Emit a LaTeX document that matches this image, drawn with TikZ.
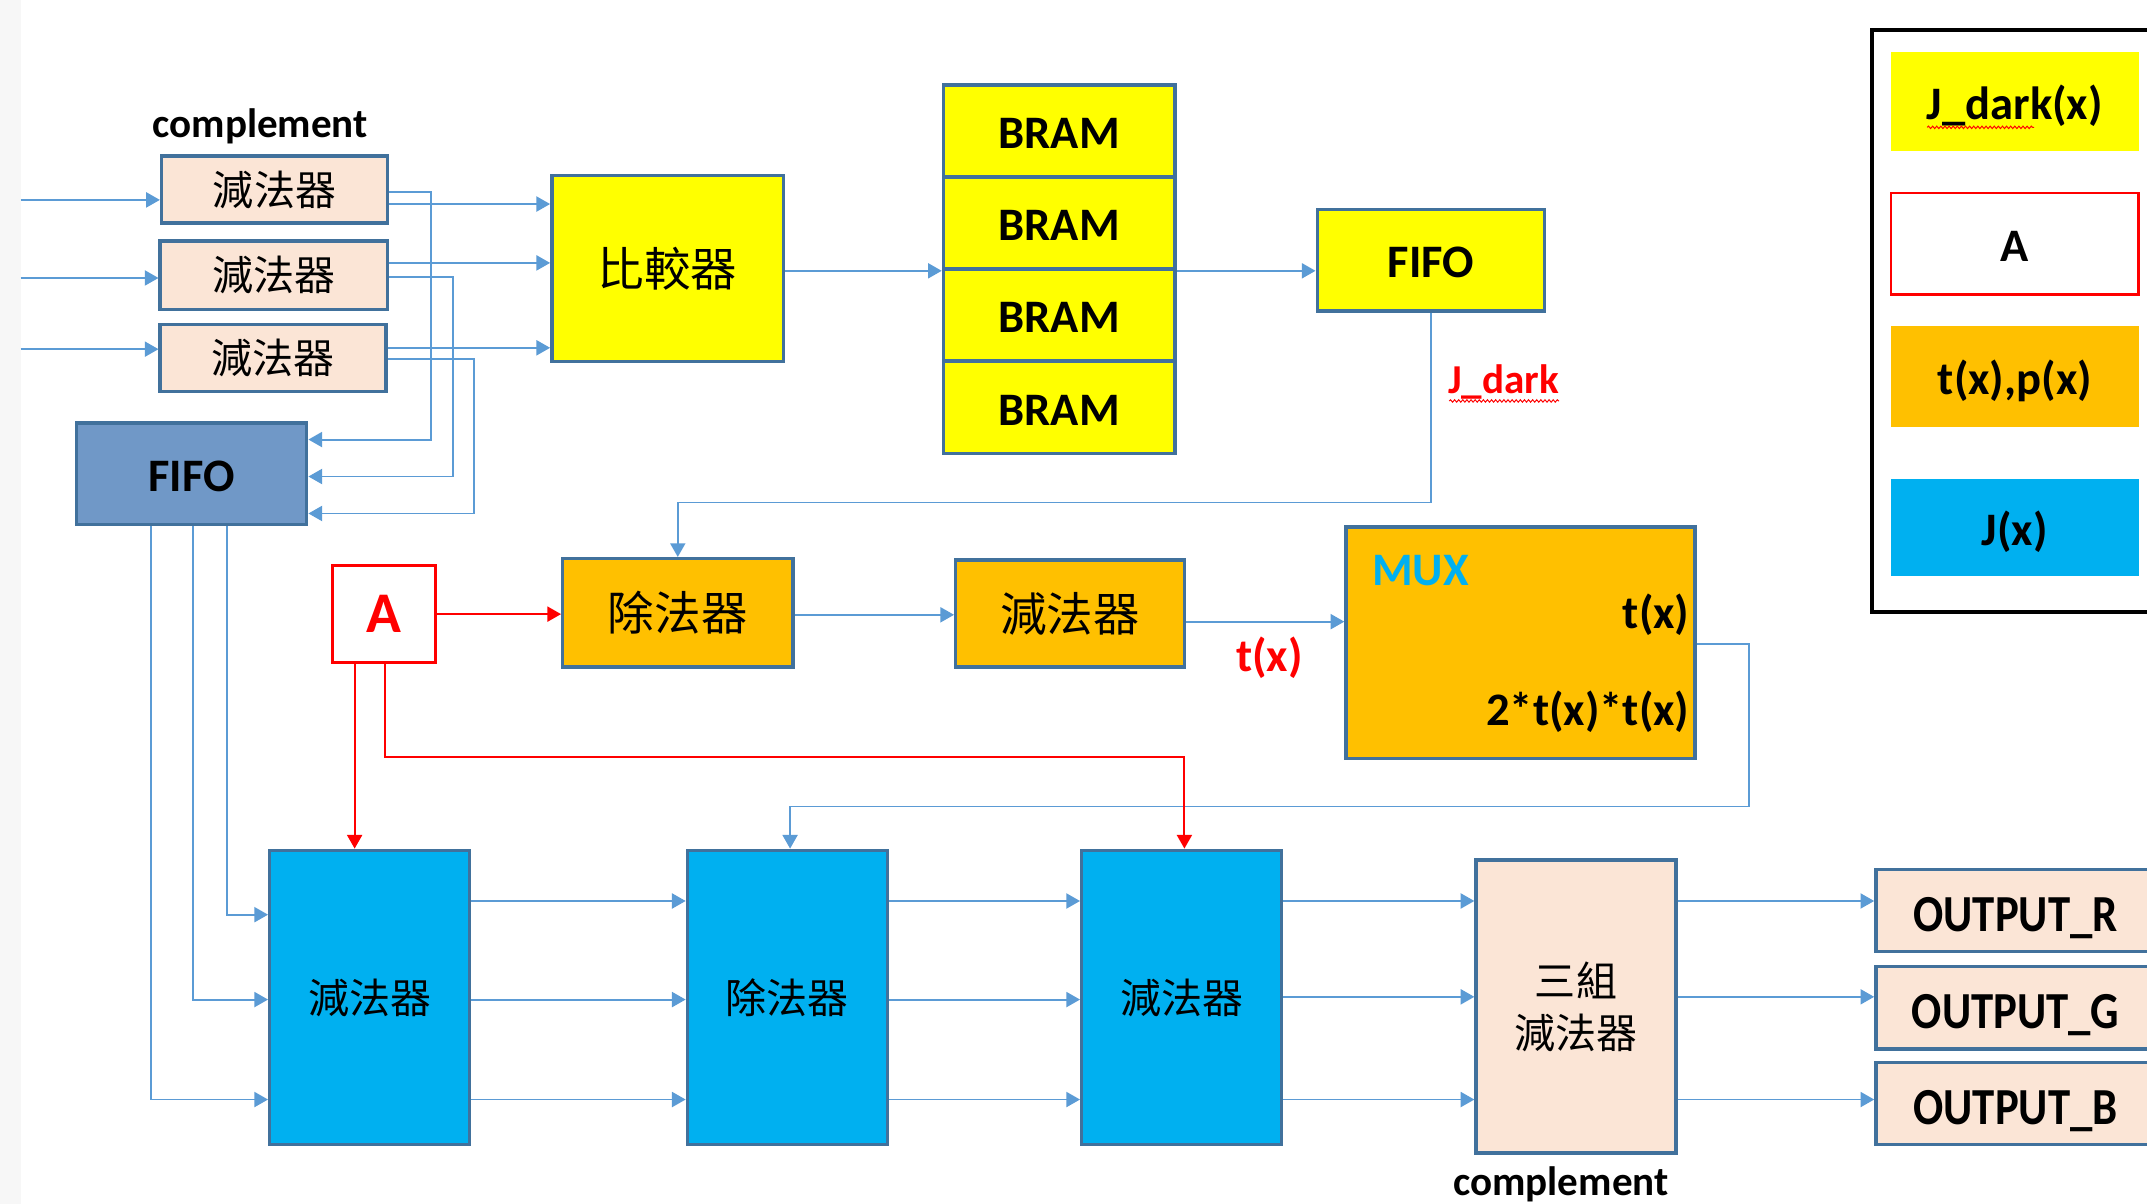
\documentclass[tikz,border=0pt]{standalone}
\usepackage{fontspec}
\setmainfont{Carlito}
\newfontfamily\cjk{Noto Sans CJK TC}
\newfontfamily\cond[FakeStretch=0.86]{Carlito}
\usetikzlibrary{arrows.meta,decorations.pathmorphing,calc}
\definecolor{peach}{HTML}{FBE5D6}
\definecolor{bord}{HTML}{41719C}
\definecolor{lineblue}{HTML}{5B9BD5}
\definecolor{ylw}{HTML}{FFFF00}
\definecolor{org}{HTML}{FFC000}
\definecolor{cyn}{HTML}{00B0F0}
\definecolor{fifob}{HTML}{7098C7}
\newcommand\cjkA{\cjk\fontsize{30}{38}\selectfont}
\newcommand\cjkB{\cjk\fontsize{34}{40}\selectfont}
\newcommand\latA{\fontsize{34}{40}\selectfont\bfseries}
\newcommand\latB{\fontsize{30}{36}\selectfont\bfseries}
\newcommand\latC{\cond\fontsize{38}{44}\selectfont\bfseries}
\begin{document}
\begin{tikzpicture}[x=1pt,y=-1pt,
  box/.style={draw=bord,line width=2.5pt,inner sep=0pt,align=center},
  tb/.style={text height=30pt,text depth=4pt},
  conn/.style={draw=lineblue,line width=1.4pt,-{Triangle[length=10pt,width=11pt]}},
  redconn/.style={draw=red,line width=1.4pt,-{Triangle[length=10pt,width=11pt]}},
  lbl/.style={inner sep=0pt},
  wavy/.style={draw=red,line width=0.7pt,decorate,decoration={snake,amplitude=0.9pt,segment length=3pt}}]
\useasboundingbox (0,0) rectangle (1568,879);
\clip (0,0) rectangle (1568,879);
\fill[white] (0,0) rectangle (1568,879);
\fill[black!3] (0,0) rectangle (15,879);

% top-left subtractors
\node[lbl,font=\latB] (comp1) at (190,92) {complement};
\node[box,fill=peach,minimum width=165,minimum height=49,font=\cjkA] (S1) at (200.5,138.5) {減法器};
\node[box,fill=peach,minimum width=166,minimum height=50,font=\cjkA] (S2) at (200,201) {減法器};
\node[box,fill=peach,minimum width=165,minimum height=49,font=\cjkA] (S3) at (199.5,261.5) {減法器};
\coordinate (in1) at (15,146);
\coordinate (in2) at (15,203);
\coordinate (in3) at (15,255);

% comparator
\node[box,fill=ylw,minimum width=169,minimum height=136,font=\cjkB] (CMP) at (487.5,196) {比較器};

% BRAM stack
\node[box,tb,fill=ylw,minimum width=169,minimum height=67.25,font=\latA] (br1) at (773.5,95.6) {BRAM};
\node[box,tb,fill=ylw,minimum width=169,minimum height=67.25,font=\latA] (br2) at (773.5,162.9) {BRAM};
\node[box,tb,fill=ylw,minimum width=169,minimum height=67.25,font=\latA] (br3) at (773.5,230.1) {BRAM};
\node[box,tb,fill=ylw,minimum width=169,minimum height=67.25,font=\latA] (br4) at (773.5,297.4) {BRAM};

% FIFOs
\node[box,tb,fill=ylw,minimum width=166,minimum height=74,font=\latA] (FIFO2) at (1045,190) {FIFO};
\node[box,tb,fill=fifob,minimum width=168,minimum height=74,font=\latA] (FIFO1) at (140,346) {FIFO};

% middle row
\node[draw=red,line width=2pt,fill=white,minimum width=75,minimum height=71,inner sep=0pt,text=red,font=\fontsize{42}{48}\selectfont\bfseries] (A) at (280.5,448.5) {A};
\node[box,fill=org,minimum width=168,minimum height=79,font=\cjkB] (DIV1) at (495,447.5) {除法器};
\node[box,fill=org,minimum width=167,minimum height=78,font=\cjkB] (SUB1) at (781.5,448) {減法器};
\node[box,fill=org,minimum width=255,minimum height=169] (MUX) at (1110.5,469.5) {};
\node[lbl,anchor=west,text=cyn,font=\latA] (muxl) at (1002,417) {MUX};
\node[lbl,anchor=east,font=\latA] (mt1) at (1234,449) {t(x)};
\node[lbl,anchor=east,font=\latA] (mt2) at (1234,520) {2*t(x)*t(x)};
\node[lbl,text=red,font=\latA] (tx) at (927,480) {t(x)};
\node[lbl,text=red,font=\latB] (jd) at (1098,279) {J\_dark};
\draw[wavy] ($(jd.south west)+(1,1)$) -- ($(jd.south east)+(0,1)$);

% bottom row
\node[box,fill=cyn,minimum width=146,minimum height=215,font=\cjkA] (B1) at (270,728.5) {減法器};
\node[box,fill=cyn,minimum width=146,minimum height=215,font=\cjkA] (B2) at (575,728.5) {除法器};
\node[box,fill=cyn,minimum width=146,minimum height=215,font=\cjkA] (B3) at (863,728.5) {減法器};
\node[box,fill=peach,minimum width=146,minimum height=214,font=\cjkA] (P) at (1151,735) {三組\\減法器};
\node[lbl,font=\latB] (comp2) at (1140,865) {complement};
\node[box,fill=peach,minimum width=204,minimum height=60,font=\latC,text height=32pt,text depth=2pt] (OR) at (1472,665) {OUTPUT\_R};
\node[box,fill=peach,minimum width=204,minimum height=60,font=\latC,text height=32pt,text depth=2pt] (OG) at (1472,736) {OUTPUT\_G};
\node[box,fill=peach,minimum width=204,minimum height=60,font=\latC,text height=32pt,text depth=2pt] (OB) at (1472,806) {OUTPUT\_B};

% legend
\node[draw=black,line width=3pt,minimum width=213,minimum height=425,inner sep=0pt] (leg) at (1473.5,234.5) {};
\node[fill=ylw,tb,minimum width=181,minimum height=72,inner sep=0pt,font=\latA] (L1) at (1471.5,74) {J\_dark(x)};
\draw[wavy] ($(L1.center)+(-64,19)$) -- ($(L1.center)+(14,19)$);
\node[draw=red,tb,line width=2pt,fill=white,minimum width=181,minimum height=74,inner sep=0pt,font=\latA] (L2) at (1471.5,178) {A};
\node[fill=org,tb,minimum width=181,minimum height=74,inner sep=0pt,font=\latA] (L3) at (1471.5,275) {t(x),p(x)};
\node[fill=cyn,tb,minimum width=181,minimum height=71,inner sep=0pt,font=\latA] (L4) at (1471.5,385.5) {J(x)};

% connectors: inputs
\draw[conn] (in1) -- (S1.west |- in1);
\draw[conn] (in2) -- (S2.west |- in2);
\draw[conn] (in3) -- (S3.west |- in3);
% subtractors to comparator
\draw[conn] (S1.east |- 0,149) -- (CMP.west |- 0,149);
\draw[conn] (S2.east |- 0,192) -- (CMP.west |- 0,192);
\draw[conn] (S3.east |- 0,254) -- (CMP.west |- 0,254);
% subtractors to FIFO
\draw[conn] (S1.east |- 0,140) -| (315,321) -- (FIFO1.east |- 0,321);
\draw[conn] (S2.east |- 0,202) -| (331,348) -- (FIFO1.east |- 0,348);
\draw[conn] (S3.east |- 0,262) -| (346,375) -- (FIFO1.east |- 0,375);
% comparator -> BRAM -> FIFO
\draw[conn] (CMP.east |- br2.south west) -- (br2.south west);
\draw[conn] (br2.south east) -- (FIFO2.west |- br2.south east);
% J_dark line
\draw[conn] (FIFO2.south) -- (FIFO2.south |- 0,367) -| (DIV1.north);
% middle row
\draw[redconn] (A.east) -- (DIV1.west |- A.east);
\draw[conn] (DIV1.east |- 0,449) -- (SUB1.west |- 0,449);
\draw[conn] (SUB1.east |- 0,454) -- (MUX.west |- 0,454);
\draw[conn] (MUX.east |- 0,470) -| (1277,589) -| ($(B2.north)+(2,0)$);
% red A lines
\draw[redconn] (A.south -| 259,0) -- (B1.north -| 259,0);
\draw[redconn] (A.south -| 281,0) -- (281,553) -| ($(B3.north)+(2,0)$);
% FIFO1 outputs
\draw[conn] (FIFO1.south -| 166,0) |- (B1.west |- 0,668);
\draw[conn] (FIFO1.south -| 141,0) |- (B1.west |- 0,730);
\draw[conn] (FIFO1.south -| 110,0) |- (B1.west |- 0,803);
% bottom chain
\foreach \yy in {658,730,803}{
  \draw[conn] (B1.east |- 0,\yy) -- (B2.west |- 0,\yy);
  \draw[conn] (B2.east |- 0,\yy) -- (B3.west |- 0,\yy);
}
\draw[conn] (B3.east |- 0,658) -- (P.west |- 0,658);
\draw[conn] (B3.east |- 0,728) -- (P.west |- 0,728);
\draw[conn] (B3.east |- 0,803) -- (P.west |- 0,803);
\draw[conn] (P.east |- 0,658) -- (OR.west |- 0,658);
\draw[conn] (P.east |- 0,728) -- (OG.west |- 0,728);
\draw[conn] (P.east |- 0,803) -- (OB.west |- 0,803);
\end{tikzpicture}
\end{document}
